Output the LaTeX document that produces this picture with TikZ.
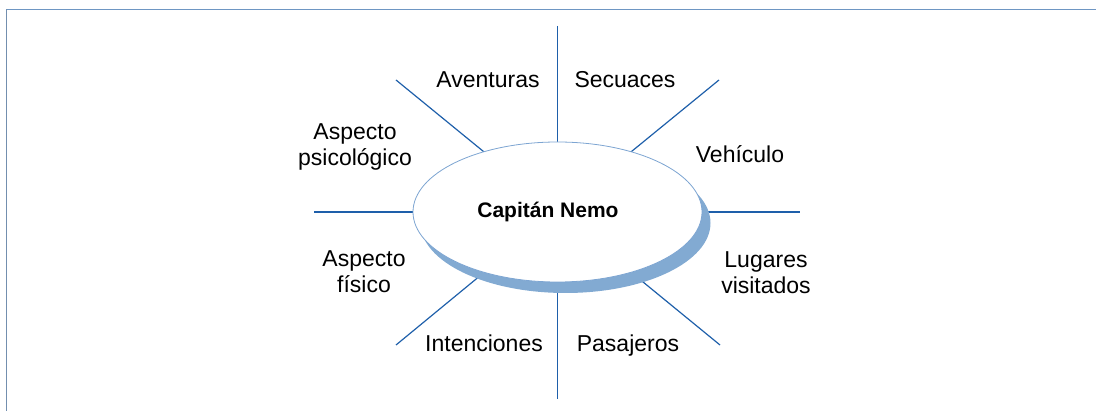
\documentclass[tikz,border=0pt]{standalone}
\usepackage{fontspec}
\setmainfont{Liberation Sans}
\usetikzlibrary{shapes.geometric,backgrounds}
\definecolor{spokeblue}{RGB}{30,95,170}
\definecolor{rimblue}{RGB}{125,165,210}
\definecolor{shadeblue}{RGB}{130,170,210}
\definecolor{frameblue}{RGB}{110,150,195}

\begin{document}
\begin{tikzpicture}[x=1pt,y=-1pt,
    lbl/.style={align=center, inner sep=0pt, font=\fontsize{23}{26}\selectfont},
    spoke/.style={spokeblue, line width=1.2pt}]
      \useasboundingbox (0,0) rectangle (1096,411);
      \draw[frameblue, line width=1.6pt] (6,9.5) -- (1096,9.5);
      \draw[frameblue!70!gray, line width=0.8pt] (6,9.5) -- (6,411);

      \node (shadow) at (565.5,223) [ellipse, fill=shadeblue, minimum width=290pt, minimum height=140pt, inner sep=0pt] {};
      \node (nemo) at (557.5,212) [ellipse, draw=rimblue, line width=0.8pt, fill=white, minimum width=289pt, minimum height=140pt, inner sep=0pt, font=\fontsize{21}{24}\selectfont\bfseries] {Capitán Nemo\hspace*{19pt}};

      \coordinate (n) at (557.5,26);
      \coordinate (s) at (557.5,399);
      \coordinate (w) at (314,212);
      \coordinate (e) at (800,212);
      \coordinate (nw) at (396,80);
      \coordinate (ne) at (719,80);
      \coordinate (sw) at (396,345);
      \coordinate (se) at (720,345);

      \begin{scope}[on background layer]
        \draw[spoke] (n) to (nemo.center) to (s);
        \draw[spoke] (w) to (nemo.center) to (e);
        \draw[spoke] (nw) to (nemo.center) to (se);
        \draw[spoke] (ne) to (nemo.center) to (sw);
      \end{scope}

      \node (aventuras) at (488,88) [lbl, anchor=base] {Aventuras};
      \node (secuaces) at (625,88) [lbl, anchor=base] {Secuaces};
      \node (vehiculo) at (740,163) [lbl, anchor=base] {Vehículo};
      \node (intenciones) at (484,352) [lbl, anchor=base] {Intenciones};
      \node (pasajeros) at (628,352) [lbl, anchor=base] {Pasajeros};
      \node (psico) at (355,147) [lbl] {Aspecto\\psicológico};
      \node (fisico) at (364,272) [lbl] {Aspecto\\físico};
      \node (lugares) at (766,273) [lbl] {Lugares\\visitados};

    \end{tikzpicture}
\end{document}
